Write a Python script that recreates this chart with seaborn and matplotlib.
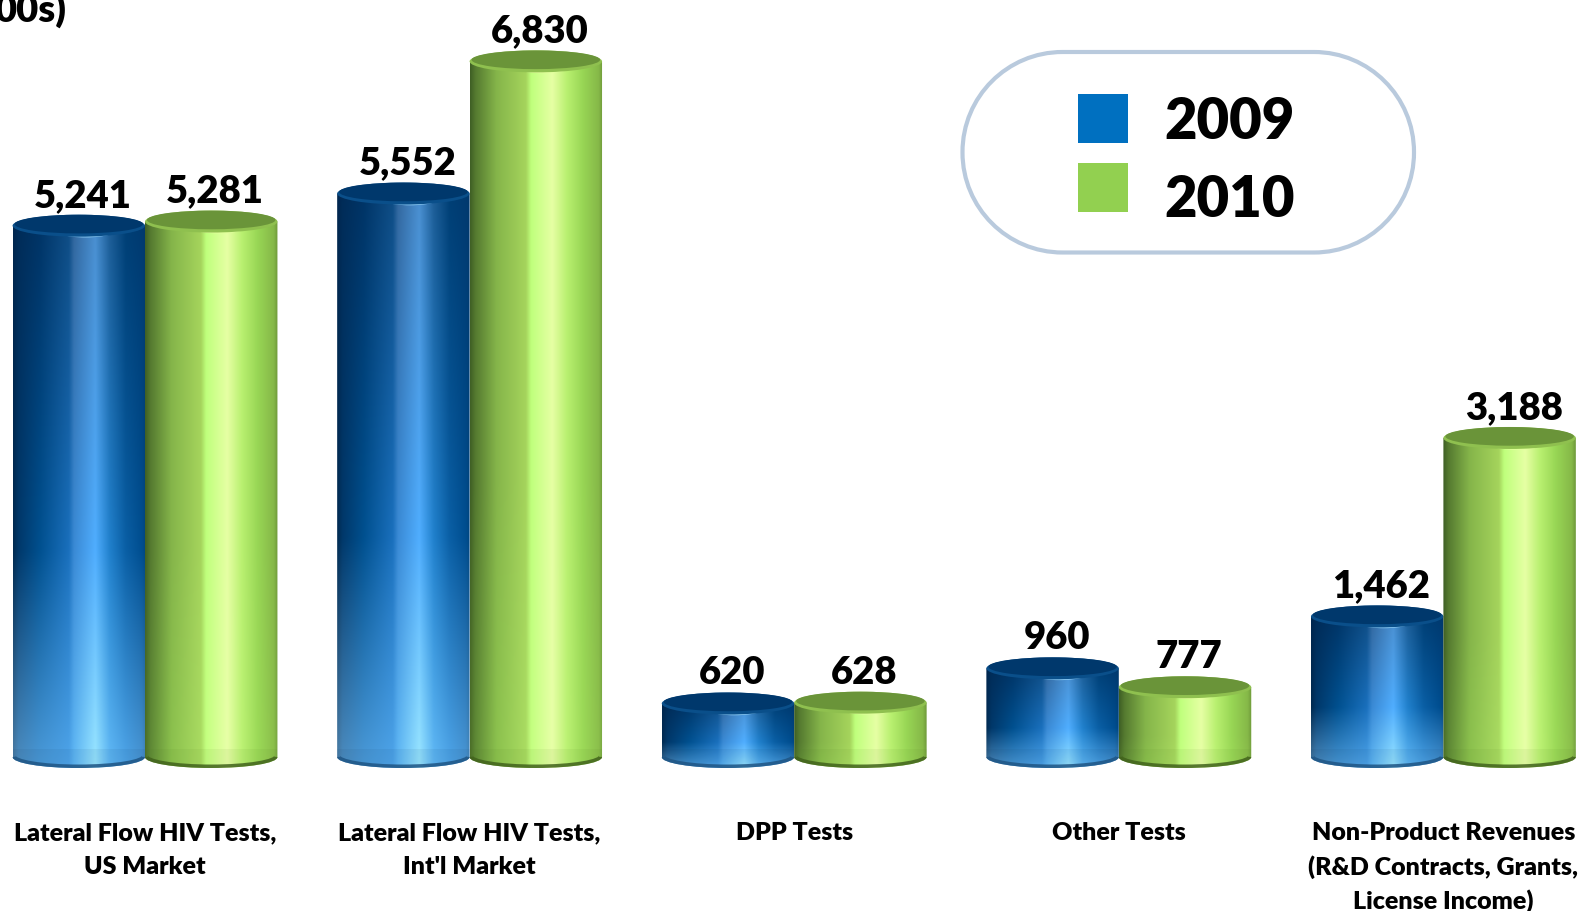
import numpy as np
import pandas as pd
import matplotlib
matplotlib.use("Agg")
import matplotlib.pyplot as plt
from matplotlib.colors import to_rgb
from matplotlib.patches import Ellipse, Rectangle, PathPatch
from matplotlib.path import Path
import seaborn as sns

categories = ["Lateral Flow HIV Tests,\nUS Market", "Lateral Flow HIV Tests,\nInt'l Market",
              "DPP Tests", "Other Tests",
              "Non-Product Revenues\n(R&D Contracts, Grants,\nLicense Income)"]
values_2009 = [5241, 5552, 620, 960, 1462]
values_2010 = [5281, 6830, 628, 777, 3188]
years = ["2009", "2010"]
legend_colors = ["#0070C0", "#92D050"]
axis_note = "00s)"

W, H = 1585, 911
PXV = 0.1034          # px per data unit
Y0 = 767.6            # px of value 0
PITCH = 324.6
X0 = 145.0

def v_of(p):
    return (Y0 - p) / PXV
def x_of(p):
    return (p - X0) / PITCH

sns.set_theme(style="white")
plt.rcParams["font.family"] = ["Lato", "DejaVu Sans"]
df = pd.DataFrame({
    "category": categories * 2,
    "year": [years[0]] * 5 + [years[1]] * 5,
    "value": values_2009 + values_2010,
})
fig = plt.figure(figsize=(W / 100, H / 100), dpi=100)
ax = fig.add_axes([0, 0, 1, 1])
sns.barplot(data=df, x="category", y="value", hue="year", palette=legend_colors,
            width=0.816, gap=0, dodge=True, legend=False, ax=ax, errorbar=None,
            saturation=1)
ax.set_xlim(x_of(0), x_of(W))
ax.set_ylim(v_of(H), v_of(0))
ax.axis("off")

# Shading: each row goes top -> bottom, each stop left -> right
stops = [0, 0.04, 0.2, 0.42, 0.46, 0.62, 0.73, 0.85, 0.97, 1]
row_pos = [0, 0.6, 1]
blue_rows = [
    ["#00264e", "#002c58", "#003466", "#0f4d85", "#33689f", "#4a8fd0", "#1d5d96", "#003f75", "#003a70", "#00386c"],
    ["#002a50", "#00386a", "#00508f", "#1a70bd", "#3a8ad5", "#50aeff", "#2080cc", "#0a5fa5", "#004e90", "#004680"],
    ["#4a7da6", "#4d8dc0", "#4b9ad8", "#4fa5ea", "#60b8f5", "#9ae6ff", "#60b8f5", "#4fa5e8", "#4a96d4", "#4688bc"],
]
green_row = ["#3f5f25", "#557a30", "#85b54a", "#a5d45c", "#bfff7c", "#e6ffa4", "#b9f070", "#98d655", "#86b848", "#6f9a3a"]
green_rows = [green_row, green_row,
              ["#4c7029", "#5f8a36", "#8cc24e", "#aadc62", "#c4ff80", "#e8ffa8", "#bcf274", "#9cda58", "#8cc04c", "#78a642"]]

def build(rows, ny=120, nx=240):
    r = np.array([[to_rgb(c) for c in row] for row in rows])
    xs = np.linspace(0, 1, nx)
    ys = np.linspace(0, 1, ny)
    out = np.zeros((ny, nx, 3))
    tmp = np.zeros((3, nx, 3))
    for ch in range(3):
        for i in range(3):
            tmp[i, :, ch] = np.interp(xs, stops, r[i, :, ch])
        for j in range(nx):
            out[:, j, ch] = np.interp(ys, row_pos, tmp[:, j, ch])
    return out
blue_img = build(blue_rows)
green_img = build(green_rows)

EH = 11 / PXV              # ellipse half height, data units
BOT = v_of(757)            # centre of the bottom ellipse
hue_of = {}
for c, s in enumerate(ax.containers):
    for p in s:
        hue_of[id(p)] = c
bars = sorted([p for p in ax.patches if isinstance(p, Rectangle)], key=lambda p: p.get_x())

LABEL = dict(fontweight="heavy", color="black", zorder=8)
CURVES = [Path.CURVE4] * 3
for p in bars:
    x, w, v = p.get_x(), p.get_width(), p.get_height()
    is_blue = hue_of[id(p)] == 0
    img = blue_img if is_blue else green_img
    p.set_visible(False)
    cx = x + w / 2
    base_z = 3 + (0 if is_blue else 0.5)
    # cylinder silhouette: top edge at the value, rounded bottom
    k = 0.5523
    arc = [(x + w, BOT), (x + w, BOT - k * EH), (cx + k * w / 2, BOT - EH), (cx, BOT - EH),
           (cx - k * w / 2, BOT - EH), (x, BOT - k * EH), (x, BOT)]
    verts = [(x, v), (x + w, v)] + arc + [(x, v)]
    codes = [Path.MOVETO, Path.LINETO, Path.LINETO] + CURVES * 2 + [Path.CLOSEPOLY]
    sil = PathPatch(Path(verts, codes), transform=ax.transData, fc="none", ec="none")
    ax.add_patch(sil)
    im = ax.imshow(img, extent=(x, x + w, BOT - EH, v), origin="upper", aspect="auto",
                   zorder=base_z, interpolation="bilinear")
    im.set_clip_path(sil)
    # soft bevel at the foot, dark lower rim only
    foot = Rectangle((x, BOT - EH), w, 8 / PXV + EH, fc="#10395f" if is_blue else "#4f7a20",
                     alpha=0.07, ec="none", zorder=base_z + 0.01)
    ax.add_patch(foot); foot.set_clip_path(sil)
    rim = PathPatch(Path(arc, [Path.MOVETO] + CURVES * 2), fc="none",
                    ec="#1f5584" if is_blue else "#41621c", lw=5,
                    zorder=base_z + 0.02, alpha=0.85)
    ax.add_patch(rim); rim.set_clip_path(sil)
    # highlight under the lid, then the lid
    ax.add_patch(Ellipse((cx + 0.05 * w, v - 0.8 / PXV), w * 0.55, 2 * EH,
                         fc="#8ccbf5" if is_blue else "#e2ff9c",
                         ec="none", zorder=base_z + 0.03))
    ax.add_patch(Ellipse((cx, v), w, 2 * EH, fc="#0a4f8a" if is_blue else "#8fc04f",
                         ec="none", zorder=base_z + 0.04))
    ax.add_patch(Ellipse((cx, v + 1.6 / PXV), w * 0.97, 2 * EH * 0.85,
                         fc="#00386c" if is_blue else "#6a9439",
                         ec="none", zorder=base_z + 0.05))
    ax.text(cx + 4 / PITCH, v + 13 / PXV, f"{int(v):,}", ha="center", va="bottom",
            fontsize=27.5, **LABEL)

for i, c in enumerate(categories):
    for j, line in enumerate(c.split("\n")):
        ax.text(i, v_of(833 + j * 34), line, ha="center", va="center", fontsize=18, **LABEL)

ax.text(x_of(66), v_of(10), axis_note, ha="right", va="center", fontsize=27.5, **LABEL)

# Legend frame and keys, placed in figure pixels
def fx(p): return p / W
def fy(p): return 1 - p / H
l, r, t, b, rad = 962.5, 1414, 52, 252.5, 100
kk = 0.5523 * rad
pts = [(l + rad, t), (r - rad, t), (r - rad + kk, t), (r, t + rad - kk), (r, t + rad),
       (r, b - rad), (r, b - rad + kk), (r - rad + kk, b), (r - rad, b), (l + rad, b),
       (l + rad - kk, b), (l, b - rad + kk), (l, b - rad), (l, t + rad), (l, t + rad - kk),
       (l + rad - kk, t), (l + rad, t), (l + rad, t)]
cds = [Path.MOVETO, Path.LINETO, Path.CURVE4, Path.CURVE4, Path.CURVE4, Path.LINETO,
       Path.CURVE4, Path.CURVE4, Path.CURVE4, Path.LINETO, Path.CURVE4, Path.CURVE4, Path.CURVE4,
       Path.LINETO, Path.CURVE4, Path.CURVE4, Path.CURVE4, Path.CLOSEPOLY]
fig.add_artist(PathPatch(Path([(fx(a), fy(c)) for a, c in pts], cds), transform=fig.transFigure,
                         fc="white", ec="#B9CADD", lw=3))
for yr, col, top, ty in zip(years, legend_colors, [94, 163], [122, 200]):
    fig.add_artist(Rectangle((fx(1078), fy(top + 49)), 50 / W, 49 / H, transform=fig.transFigure,
                             fc=col, ec="none"))
    fig.text(fx(1164), fy(ty), yr, ha="left", va="center", fontsize=40.5,
             fontweight="heavy", color="black")

fig.savefig("out.png", dpi=100)
